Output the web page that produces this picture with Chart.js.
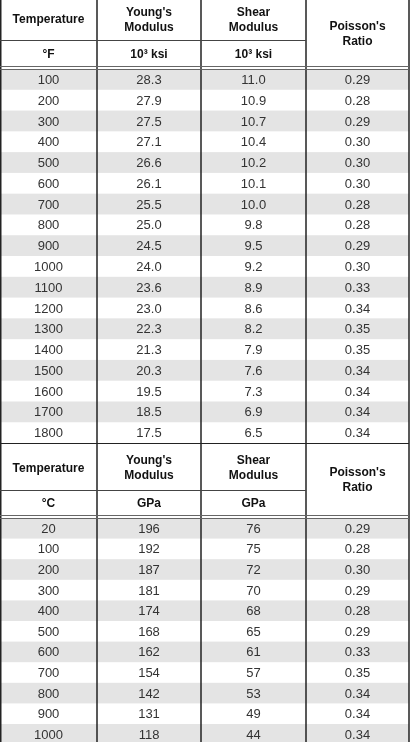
<!DOCTYPE html>
<html>
<head>
<meta charset="utf-8">
<script src="https://cdn.jsdelivr.net/npm/chart.js@4"></script>
<style>
  html, body { margin: 0; padding: 0; background: #fff; }
</style>
</head>
<body>
<canvas id="table" width="410" height="742"></canvas>
<script>
const headersF = ["Temperature", "Young's\nModulus", "Shear\nModulus", "Poisson's\nRatio"];
const unitsF = ["°F", "10³ ksi", "10³ ksi"];
const tempF = [100, 200, 300, 400, 500, 600, 700, 800, 900, 1000, 1100, 1200, 1300, 1400, 1500, 1600, 1700, 1800];
const youngKsi = ["28.3", "27.9", "27.5", "27.1", "26.6", "26.1", "25.5", "25.0", "24.5", "24.0", "23.6", "23.0", "22.3", "21.3", "20.3", "19.5", "18.5", "17.5"];
const shearKsi = ["11.0", "10.9", "10.7", "10.4", "10.2", "10.1", "10.0", "9.8", "9.5", "9.2", "8.9", "8.6", "8.2", "7.9", "7.6", "7.3", "6.9", "6.5"];
const poissonF = ["0.29", "0.28", "0.29", "0.30", "0.30", "0.30", "0.28", "0.28", "0.29", "0.30", "0.33", "0.34", "0.35", "0.35", "0.34", "0.34", "0.34", "0.34"];

const headersC = ["Temperature", "Young's\nModulus", "Shear\nModulus", "Poisson's\nRatio"];
const unitsC = ["°C", "GPa", "GPa"];
const tempC = [20, 100, 200, 300, 400, 500, 600, 700, 800, 900, 1000];
const youngGPa = [196, 192, 187, 181, 174, 168, 162, 154, 142, 131, 118];
const shearGPa = [76, 75, 72, 70, 68, 65, 61, 57, 53, 49, 44];
const poissonC = ["0.29", "0.28", "0.30", "0.29", "0.28", "0.29", "0.33", "0.35", "0.34", "0.34", "0.34"];

// layout (pixel-space units of the hidden scales)
const colEdges = [0, 97, 201, 306, 409];
const sections = [
  { top: 0, unitTop: 40, dataTop: 69, rowH: 20.78, headers: headersF, units: unitsF,
    cols: [tempF, youngKsi, shearKsi, poissonF] },
  { top: 443, unitTop: 490, dataTop: 518, rowH: 20.6, headers: headersC, units: unitsC,
    cols: [tempC, youngGPa, shearGPa, poissonC] },
];

const tablePlugin = {
  id: "tablePlugin",
  afterDraw(chart) {
    const ctx = chart.ctx;
    const xs = chart.scales.x, ys = chart.scales.y;
    const X = (v) => xs.getPixelForValue(v);
    const Y = (v) => ys.getPixelForValue(v);
    const cx = (i) => (X(colEdges[i]) + X(colEdges[i + 1])) / 2;
    ctx.save();
    ctx.textAlign = "center";
    ctx.textBaseline = "middle";

    sections.forEach((s, si) => {
      const n = s.cols[0].length;
      const bottom = si === 0 ? sections[1].top : 742;
      for (let r = 0; r < n; r++) {
        if (r % 2 === 0) {
          ctx.fillStyle = "#e4e4e4";
          ctx.fillRect(X(0), Y(s.dataTop + r * s.rowH), X(409) - X(0), s.rowH);
        }
      }
      ctx.fillStyle = "#111";
      ctx.font = "bold 12px 'Liberation Sans', Arial, sans-serif";
      s.headers.forEach((h, i) => {
        const lines = h.split("\n");
        let mid;
        if (i === 3) mid = (s.top + s.dataTop) / 2;
        else mid = (s.top + s.unitTop) / 2 + (si === 1 ? 2 : 0);
        lines.forEach((l, k) => {
          ctx.fillText(l, cx(i), Y(mid + (k - (lines.length - 1) / 2) * 15));
        });
      });
      s.units.forEach((u, i) => {
        ctx.fillText(u, cx(i), Y((s.unitTop + s.dataTop) / 2));
      });
      ctx.fillStyle = "#333";
      ctx.font = "13px 'Liberation Sans', Arial, sans-serif";
      for (let r = 0; r < n; r++) {
        s.cols.forEach((col, i) => {
          ctx.fillText(String(col[r]), cx(i), Y(s.dataTop + r * s.rowH + s.rowH / 2 + 1));
        });
      }
      ctx.strokeStyle = "#222";
      ctx.lineWidth = 1.5;
      colEdges.forEach((e) => {
        ctx.beginPath();
        ctx.moveTo(X(e) + (e === 0 ? 0.75 : 0), Y(s.top));
        ctx.lineTo(X(e) + (e === 0 ? 0.75 : 0), Y(bottom));
        ctx.stroke();
      });
      ctx.lineWidth = 1;
      ctx.strokeStyle = "#444";
      ctx.beginPath();
      ctx.moveTo(X(0), Y(s.unitTop) + 0.5);
      ctx.lineTo(X(306), Y(s.unitTop) + 0.5);
      ctx.stroke();
      ctx.strokeStyle = "#666";
      [s.dataTop - 3, s.dataTop].forEach((yy) => {
        ctx.beginPath();
        ctx.moveTo(X(0), Y(yy) + 0.5);
        ctx.lineTo(X(409), Y(yy) + 0.5);
        ctx.stroke();
      });
      if (si === 1) {
        ctx.strokeStyle = "#222";
        ctx.beginPath();
        ctx.moveTo(X(0), Y(s.top) + 0.5);
        ctx.lineTo(X(409), Y(s.top) + 0.5);
        ctx.stroke();
      }
    });
    ctx.restore();
  },
};

new Chart(document.getElementById("table"), {
  type: "scatter",
  data: { datasets: [{ data: [] }] },
  options: {
    responsive: false,
    animation: false,
    layout: { padding: 0 },
    plugins: { legend: { display: false }, tooltip: { enabled: false } },
    scales: {
      x: { type: "linear", min: 0, max: 410, display: false },
      y: { type: "linear", min: 0, max: 742, reverse: true, display: false },
    },
  },
  plugins: [tablePlugin],
});
</script>
</body>
</html>
